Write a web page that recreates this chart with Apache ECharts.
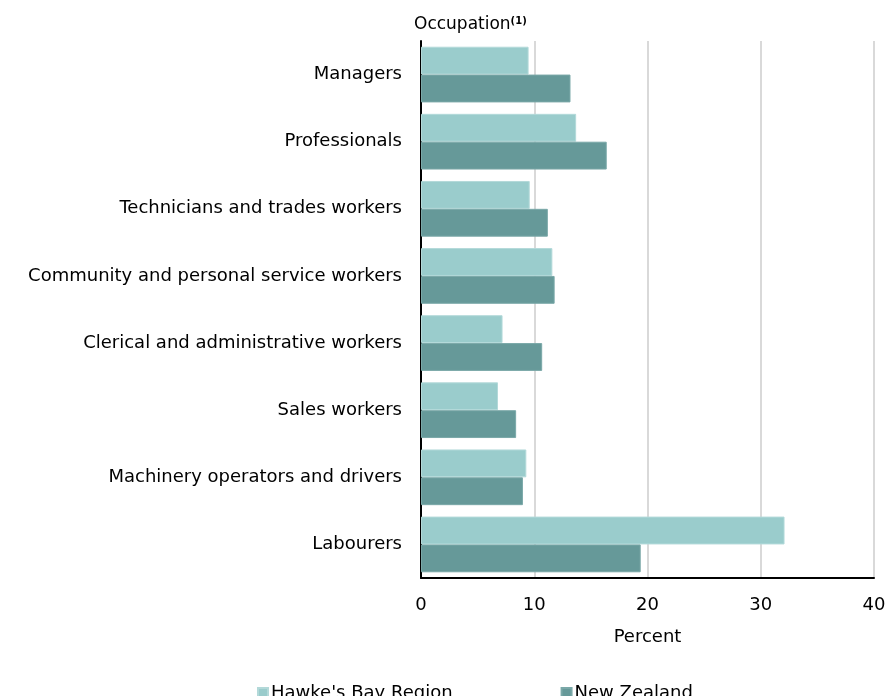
<!DOCTYPE html>
<html>
<head>
<meta charset="utf-8">
<script src="https://cdn.jsdelivr.net/npm/echarts@6/dist/echarts.min.js"></script>
<style>html,body{margin:0;padding:0;background:#fff}#c{width:889px;height:696px}</style>
</head>
<body>
<div id="c"></div>
<script>
const categories = [
  "Managers",
  "Professionals",
  "Technicians and trades workers",
  "Community and personal service workers",
  "Clerical and administrative workers",
  "Sales workers",
  "Machinery operators and drivers",
  "Labourers"
];
const hawkesBay = [9.5, 13.7, 9.6, 11.6, 7.2, 6.8, 9.3, 32.1];
const newZealand = [13.2, 16.4, 11.2, 11.8, 10.7, 8.4, 9.0, 19.4];
const xTicks = [0, 10, 20, 30, 40];

const font = "DejaVu Sans, sans-serif";
const chart = echarts.init(document.getElementById('c'), null, {renderer: 'canvas'});
chart.setOption({
  animation: false,
  backgroundColor: '#ffffff',
  title: {
    text: '{a|Occupation}{b|(1)}',
    left: 409, top: 11,
    textStyle: {
      fontWeight: 'normal',
      rich: {
        a: {fontFamily: font, fontSize: 17, color: '#000', fontWeight: 'normal'},
        b: {fontFamily: font, fontSize: 10, color: '#000', fontWeight: 'bold', verticalAlign: 'top', padding: [0,0,8,0]}
      }
    }
  },
  legend: {
    data: ["Hawke's Bay Region", "New Zealand"],
    left: 252, top: 679,
    itemWidth: 10, itemHeight: 10, itemGap: 108,
    icon: 'rect',
    textStyle: {fontFamily: font, fontSize: 18, color: '#000', padding: [0,0,0,-2]}
  },
  grid: {left: 421, right: 15, top: 41, bottom: 118, containLabel: false},
  xAxis: {
    type: 'value', min: xTicks[0], max: xTicks[xTicks.length-1], interval: 10,
    name: 'Percent', nameLocation: 'middle', nameGap: 50,
    nameTextStyle: {fontFamily: font, fontSize: 18, color: '#000'},
    axisLine: {show: true, lineStyle: {color: '#000', width: 2}},
    axisTick: {show: false},
    axisLabel: {fontFamily: font, fontSize: 18, color: '#000', margin: 18},
    splitLine: {show: true, lineStyle: {color: '#d9d9d9', width: 2}}
  },
  yAxis: {
    type: 'category', data: categories, inverse: true,
    axisLine: {show: true, lineStyle: {color: '#000', width: 2}},
    axisTick: {show: false},
    axisLabel: {fontFamily: font, fontSize: 18, color: '#000', margin: 19},
    splitLine: {show: false}
  },
  series: [
    {name: "Hawke's Bay Region", type: 'bar', data: hawkesBay, barGap: '0%', barCategoryGap: '17%',
     itemStyle: {color: '#9acccc', borderColor: '#b3d9d9', borderWidth: 1}},
    {name: "New Zealand", type: 'bar', data: newZealand, barGap: '0%', barCategoryGap: '17%',
     itemStyle: {color: '#669999', borderColor: '#7aa8a8', borderWidth: 1}}
  ]
});
</script>
</body>
</html>
